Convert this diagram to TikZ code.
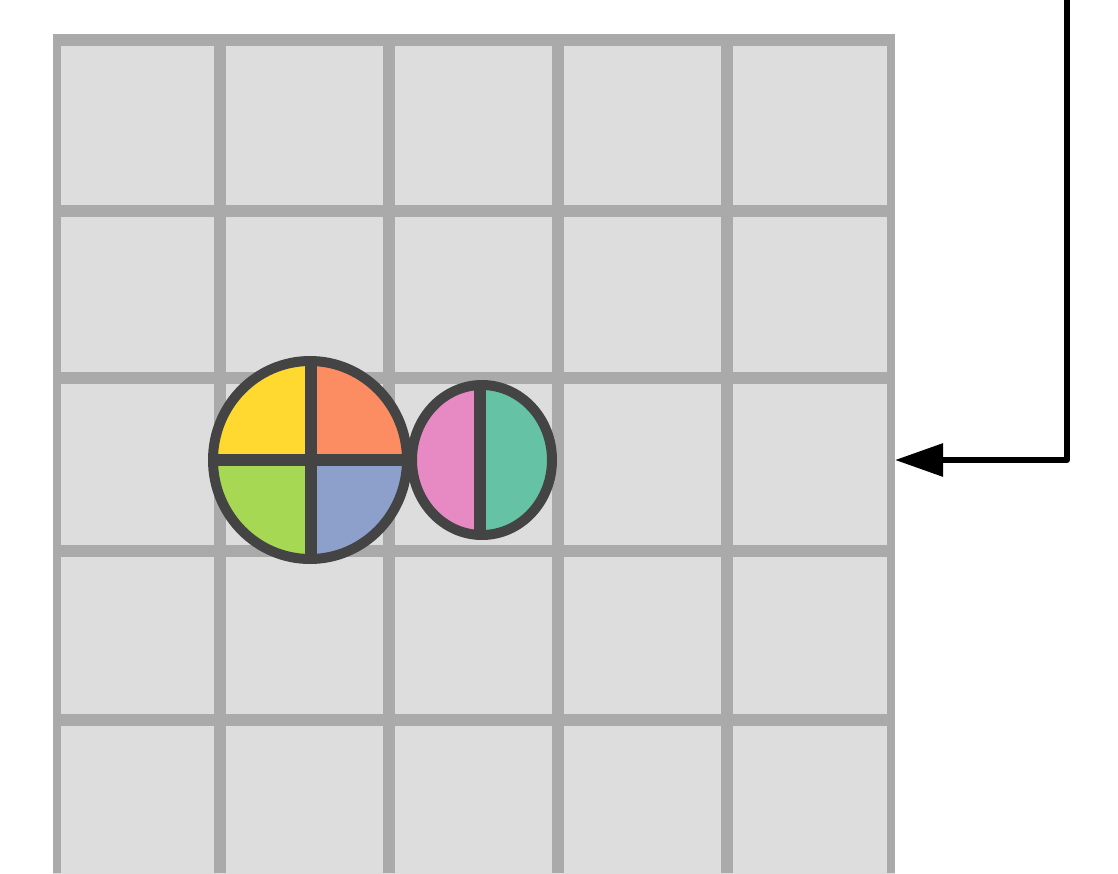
\documentclass[tikz,border=0pt]{standalone}
\usetikzlibrary{arrows.meta}
\definecolor{cellfill}{HTML}{DDDDDD}
\definecolor{gridline}{HTML}{AAAAAA}
\definecolor{outl}{HTML}{444444}
\definecolor{cyel}{HTML}{FFD92F}
\definecolor{cora}{HTML}{FC8D62}
\definecolor{cgre}{HTML}{A6D854}
\definecolor{cblu}{HTML}{8DA0CB}
\definecolor{cpin}{HTML}{E78AC3}
\definecolor{ctea}{HTML}{66C2A5}
\tikzset{
  gline/.style={gridline,line width=6pt},
  gedge/.style={gridline,line width=4pt},
  outline/.style={outl,line width=5pt},
  divider/.style={outl,line width=6pt},
  connector/.style={black,line width=3pt,line join=round,-{Triangle[length=24pt,width=16pt]}}
}
\begin{document}
\begin{tikzpicture}[x=0.5pt,y=-0.5pt]
\useasboundingbox (0,0) rectangle (1118,873);
% grid
\node[fill=cellfill,inner sep=0pt,minimum width=421pt,minimum height=425pt,anchor=north west] (grid) at (53,34) {};
\foreach \x in {220,389,558,727} \draw[gline] (\x,34) -- (\x,873);
\draw[gedge] (57,34) -- (57,873);
\draw[gedge] (891,34) -- (891,873);
\foreach \y in {40,211,378,551,720} \draw[gline] (53,\y) -- (895,\y);
% big circle
\coordinate (bc) at (310,460);
\begin{scope}
  \clip (bc) ellipse [x radius=97,y radius=99];
  \fill[cyel] (bc) rectangle ++(-120,-120);
  \fill[cora] (bc) rectangle ++(120,-120);
  \fill[cgre] (bc) rectangle ++(-120,120);
  \fill[cblu] (bc) rectangle ++(120,120);
  \draw[divider] (311,340) -- (311,580);
  \draw[divider] (190,460) -- (430,460);
\end{scope}
\draw[outline] (bc) ellipse [x radius=97,y radius=99];
% small circle
\coordinate (sc) at (482,460);
\begin{scope}
  \clip (sc) ellipse [x radius=70,y radius=75];
  \fill[cpin] (480,380) rectangle (400,540);
  \fill[ctea] (480,380) rectangle (560,540);
  \draw[divider] (480,370) -- (480,550);
\end{scope}
\draw[outline] (sc) ellipse [x radius=70,y radius=75];
% connector
\coordinate (src) at (1067,-10);
\coordinate (gridin) at (895,460);
\draw[connector] (src) |- (gridin);
\end{tikzpicture}
\end{document}
